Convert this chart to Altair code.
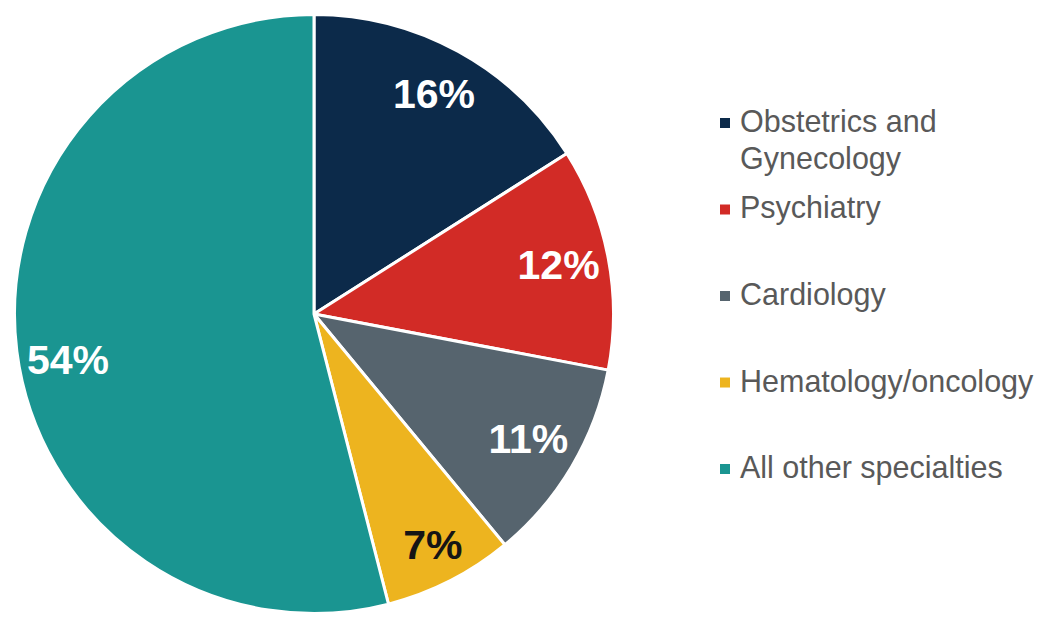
import altair as alt
import pandas as pd
import math

categories = ["Obstetrics and\nGynecology", "Psychiatry", "Cardiology",
              "Hematology/oncology", "All other specialties"]
values = [16, 12, 11, 7, 54]
colors = ["#0c2a4a", "#d22b26", "#56646e", "#edb41f", "#1a9591"]

df = pd.DataFrame({"cat": categories, "pct": values})
df["label"] = [f"{v}%" for v in values]
df["order"] = list(range(len(categories)))

cscale = alt.Scale(domain=categories, range=colors)

arcs = alt.Chart(df).mark_arc(outerRadius=299.5, stroke="white", strokeWidth=3).encode(
    theta=alt.Theta("pct:Q", stack=True),
    order=alt.Order("order:Q"),
    color=alt.Color("cat:N", scale=cscale, legend=None),
)

lab_base = alt.Chart(df).transform_window(
    cum="sum(pct)", sort=[alt.SortField("order")]
).transform_calculate(
    mid="datum.cum - datum.pct / 2"
).encode(
    theta=alt.Theta("mid:Q", stack=None,
                    scale=alt.Scale(domain=[0, 100], range=[0, 2 * math.pi])),
    text="label:N",
)

txt = dict(font="Liberation Sans", fontSize=41, fontWeight="bold",
           align="center", baseline="middle")

lab_main = lab_base.transform_filter(
    "datum.pct >= 10 && datum.pct < 50"
).mark_text(radius=249, color="white", **txt)
lab_small = lab_base.transform_filter("datum.pct < 10").mark_text(
    radius=262, color="#151515", **txt)
lab_big = lab_base.transform_filter("datum.pct >= 50").mark_text(
    radius=248, dy=17, color="white", **txt)

pie = (arcs + lab_main + lab_small + lab_big).properties(width=608, height=604)

lbase = alt.Chart(df).encode(
    y=alt.Y("order:Q", axis=None,
            scale=alt.Scale(domain=[5.699, -1.283], zero=False, nice=False)),
)
squares = lbase.mark_square(size=100, opacity=1).encode(
    x=alt.value(15),
    color=alt.Color("cat:N", scale=cscale, legend=None),
)
ltext = lbase.mark_text(
    font="Liberation Sans", fontSize=30.5, align="left", baseline="middle",
    lineBreak="\n", lineHeight=37, color="#595959"
).encode(
    x=alt.value(30),
    text="cat:N",
)
legend = (squares + ltext).properties(width=290, height=604)

chart = alt.hconcat(pie, legend, spacing=90).configure_view(stroke=None).properties(
    padding=0
)

chart.save("out.html", embed_options={"renderer": "svg", "actions": False})
